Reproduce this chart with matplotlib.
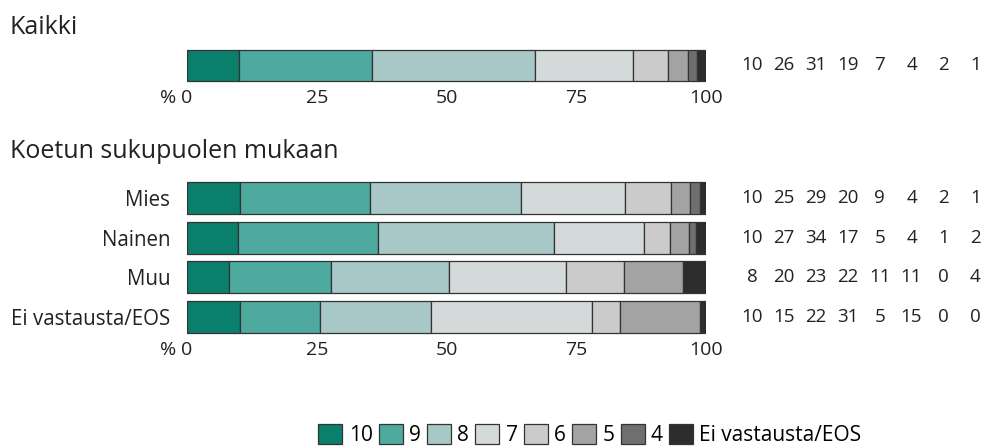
import numpy as np
import matplotlib
matplotlib.use('Agg')
import matplotlib.pyplot as plt
from matplotlib.patches import Patch
from matplotlib.transforms import offset_copy

plt.rcParams['font.family'] = ['Open Sans', 'DejaVu Sans']

# Response categories (score 10 ... 4, no answer)
categories = ['10', '9', '8', '7', '6', '5', '4', 'Ei vastausta/EOS']
colors = ['#0a7f6c', '#4eaa9f', '#a7c8c6', '#d3dad9', '#cbcbcb', '#a3a3a3', '#6f6f6f', '#2d2d2d']

# Kaikki (all respondents): bar shares and printed values
all_shares = [10.0, 25.6, 31.4, 18.9, 6.7, 3.9, 1.7, 1.8]
all_labels = [10, 26, 31, 19, 7, 4, 2, 1]

# By perceived gender
groups = ['Mies', 'Nainen', 'Muu', 'Ei vastausta/EOS']
mies = [10.3, 25.0, 29.0, 20.0, 8.9, 3.7, 1.9, 1.2]
nainen = [9.8, 27.0, 34.0, 17.3, 4.9, 3.7, 1.4, 1.9]
muu = [8.1, 19.7, 22.7, 22.5, 11.2, 11.4, 0.0, 4.4]
eos = [10.3, 15.4, 21.4, 31.0, 5.3, 15.4, 0.0, 1.2]
group_shares = [mies, nainen, muu, eos]

mies_labels = [10, 25, 29, 20, 9, 4, 2, 1]
nainen_labels = [10, 27, 34, 17, 5, 4, 1, 2]
muu_labels = [8, 20, 23, 22, 11, 11, 0, 4]
eos_labels = [10, 15, 22, 31, 5, 15, 0, 0]
group_labels = [mies_labels, nainen_labels, muu_labels, eos_labels]

ticks = [0, 25, 50, 75, 100]

W, H = 985, 447
fig = plt.figure(figsize=(W / 100, H / 100), dpi=100)

x0, x1 = 187, 706
ax1 = fig.add_axes([x0 / W, 1 - 85 / H, (x1 - x0) / W, 39 / H])
ax2 = fig.add_axes([x0 / W, 1 - 337 / H, (x1 - x0) / W, 159 / H])

label_x = 108.9 + np.arange(8) * 6.14
txt = '#222222'


def draw_bars(ax, rows, labels, names):
    for r, (shares, labs) in enumerate(zip(rows, labels)):
        left = 0
        for val, col in zip(shares, colors):
            if val > 0:
                ax.barh(r, val, left=left, height=0.8, color=col,
                        edgecolor='#333333', linewidth=0.9)
            left += val
        for xx, lab in zip(label_x, labs):
            ax.text(xx, r, str(lab), ha='center', va='center', fontsize=13.5,
                    color=txt, clip_on=False)
    ax.set_xlim(0, 100)
    ax.set_ylim(len(rows) - 0.5, -0.5)
    ax.set_xticks(ticks)
    ax.set_xticklabels([str(t) for t in ticks])
    if names:
        ax.set_yticks(range(len(names)))
        ax.set_yticklabels(names)
    else:
        ax.set_yticks([])
    ax.tick_params(length=0, labelsize=14.8, colors=txt)
    ax.tick_params(axis='x', pad=3, labelsize=14)
    ax.tick_params(axis='y', pad=12)
    for s in ax.spines.values():
        s.set_visible(False)
    # "%" sits left of the 0 tick label
    tr = offset_copy(ax.get_xaxis_transform(), fig=fig, x=0, y=-3, units='points')
    ax.text(-2.0, 0, '%', transform=tr, ha='right', va='top', fontsize=14, color=txt)


draw_bars(ax1, [all_shares], [all_labels], None)
draw_bars(ax2, group_shares, group_labels, groups)

fig.text(10 / W, 1 - 27 / H, 'Kaikki', fontsize=18, va='center', color=txt)
fig.text(10 / W, 1 - 152 / H, 'Koetun sukupuolen mukaan', fontsize=18, va='center',
         color=txt)

handles = [Patch(facecolor=c, edgecolor='#333333', linewidth=0.9) for c in colors]
fig.legend(handles, categories, loc='center', bbox_to_anchor=(590 / W, 1 - 435 / H),
           ncol=8, frameon=False, fontsize=15, handlelength=1.15, handleheight=1.15,
           handletextpad=0.3, columnspacing=0.3, borderaxespad=0)

fig.savefig('out.png', dpi=100)
